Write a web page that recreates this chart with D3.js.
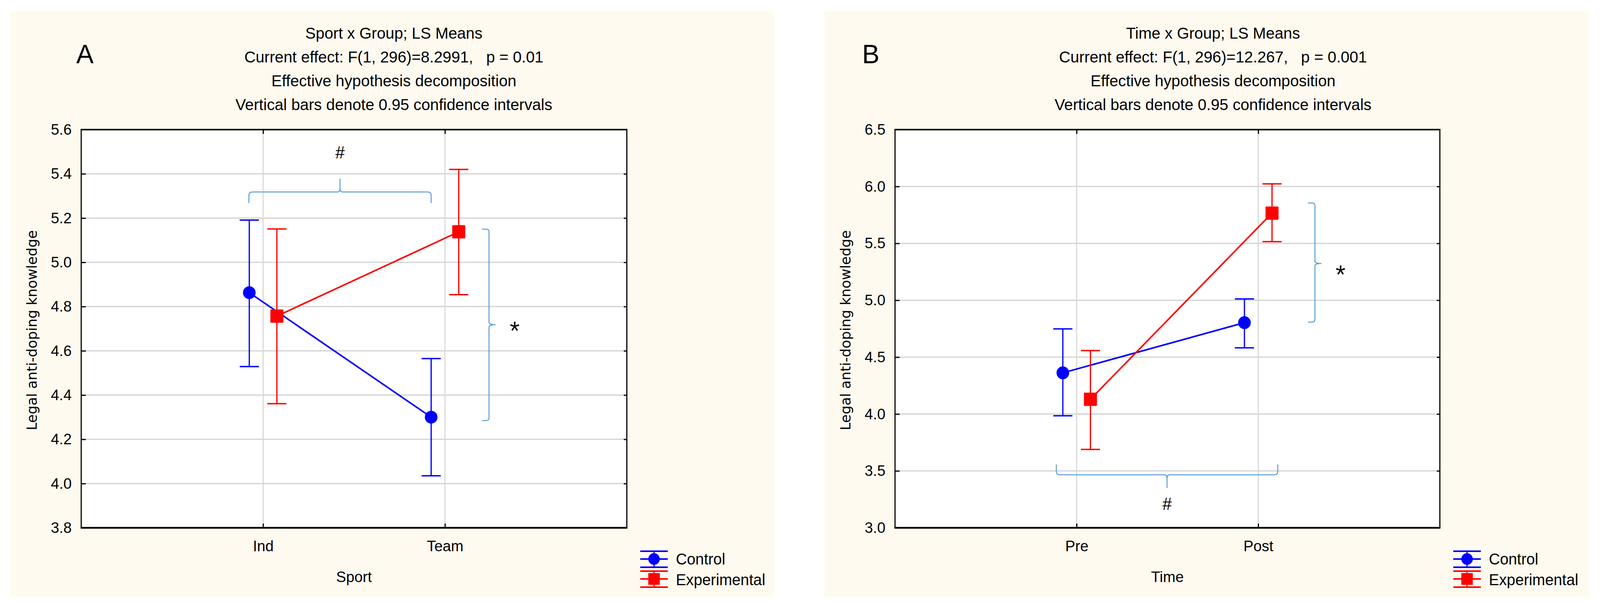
<!DOCTYPE html>
<html>
<head>
<meta charset="utf-8">
<title>LS Means - Sport x Group, Time x Group</title>
<script src="https://cdn.jsdelivr.net/npm/d3@7"></script>
<style>
  html, body { margin: 0; padding: 0; background: #ffffff; overflow: hidden; width: 100%; height: 100%; }
  #chart { width: 100vw; height: 100vh; }
  svg { display: block; }
  text { font-family: "Liberation Sans", Arial, sans-serif; fill: #000; }
</style>
</head>
<body>
<div id="chart"></div>
<script>
// ---- data ----
const groups = ["Control", "Experimental"]

// panel A: Sport x Group
const sportCats = ["Ind", "Team"]
const sportControlMean = [4.863, 4.300]
const sportControlLow  = [4.529, 4.035]
const sportControlHigh = [5.191, 4.565]
const sportExpMean = [4.757, 5.138]
const sportExpLow  = [4.361, 4.854]
const sportExpHigh = [5.151, 5.420]
const sportTicks = [3.8, 4.0, 4.2, 4.4, 4.6, 4.8, 5.0, 5.2, 5.4, 5.6]

// panel B: Time x Group
const timeCats = ["Pre", "Post"]
const timeControlMean = [4.362, 4.803]
const timeControlLow  = [3.985, 4.582]
const timeControlHigh = [4.748, 5.012]
const timeExpMean = [4.130, 5.766]
const timeExpLow  = [3.689, 5.515]
const timeExpHigh = [4.558, 6.023]
const timeTicks = [3.0, 3.5, 4.0, 4.5, 5.0, 5.5, 6.0, 6.5]

const titlesA = ["Sport x Group; LS Means", "Current effect: F(1, 296)=8.2991,   p = 0.01",
  "Effective hypothesis decomposition", "Vertical bars denote 0.95 confidence intervals"]
const titlesB = ["Time x Group; LS Means", "Current effect: F(1, 296)=12.267,   p = 0.001",
  "Effective hypothesis decomposition", "Vertical bars denote 0.95 confidence intervals"]

const colors = {Control: "#0000ff", Experimental: "#ff0000"}
const braceColor = "#5b9bd5"

// drawing space is 4176 x 1560, fitted to whatever the window really is
var svg = d3.select("#chart")
  .append("svg")
  .attr("viewBox", "0 0 4176 1560")
  .attr("preserveAspectRatio", "none")
  .attr("width", "100%")
  .attr("height", "100%")

svg.append("rect").attr("width", 4176).attr("height", 1560).attr("fill", "#ffffff")

// build one panel
function drawPanel(p) {
  var g = svg.append("g")

  // cream background
  g.append("rect")
    .attr("x", p.bgX).attr("y", 29)
    .attr("width", p.bgW).attr("height", 1499)
    .attr("fill", "#fefaf0")

  var top = 332, bottom = 1352
  var left = p.plotX, right = p.plotX + p.plotW

  var x = d3.scalePoint().domain(p.cats).range([left, right]).padding(1)
  var y = d3.scaleLinear().domain(p.yDomain).range([bottom, top])

  g.append("rect")
    .attr("x", left).attr("y", top)
    .attr("width", p.plotW).attr("height", bottom - top)
    .attr("fill", "#ffffff")

  // grid lines
  g.selectAll(".hgrid").data(p.ticks.slice(1, -1)).enter()
    .append("line")
    .attr("x1", left).attr("x2", right)
    .attr("y1", d => y(d)).attr("y2", d => y(d))
    .attr("stroke", "#d2d2d2").attr("stroke-width", 3)
  g.selectAll(".vgrid").data(p.cats).enter()
    .append("line")
    .attr("x1", d => x(d)).attr("x2", d => x(d))
    .attr("y1", top).attr("y2", bottom)
    .attr("stroke", "#d9d9d9").attr("stroke-width", 3)

  // axes
  var yAxis = g.append("g")
    .attr("transform", "translate(" + left + ",0)")
    .call(d3.axisLeft(y).tickValues(p.ticks).tickFormat(d3.format(".1f"))
      .tickSizeInner(-12).tickSizeOuter(0).tickPadding(25))
  yAxis.selectAll("text").style("font-size", "39px")

  g.append("g")
    .attr("transform", "translate(" + right + ",0)")
    .call(d3.axisRight(y).tickValues(p.ticks).tickFormat("")
      .tickSizeInner(-8).tickSizeOuter(0))

  var xAxis = g.append("g")
    .attr("transform", "translate(0," + bottom + ")")
    .call(d3.axisBottom(x).tickSizeInner(-11).tickSizeOuter(0).tickPadding(32))
  xAxis.selectAll("text").style("font-size", "39px")

  g.append("g")
    .attr("transform", "translate(0," + top + ")")
    .call(d3.axisTop(x).tickFormat("").tickSizeInner(-11).tickSizeOuter(0))

  g.selectAll(".domain").remove()
  g.selectAll(".tick line").attr("stroke", "#000").attr("stroke-width", 3)

  // frame
  g.append("line").attr("x1", left - 1.5).attr("x2", right + 1.5).attr("y1", top).attr("y2", top)
    .attr("stroke", "#000").attr("stroke-width", 4)
  g.append("line").attr("x1", left - 1.5).attr("x2", right + 1.5).attr("y1", bottom).attr("y2", bottom)
    .attr("stroke", "#000").attr("stroke-width", 4.5)
  g.append("line").attr("x1", left).attr("x2", left).attr("y1", top).attr("y2", bottom)
    .attr("stroke", "#000").attr("stroke-width", 3)
  g.append("line").attr("x1", right).attr("x2", right).attr("y1", top).attr("y2", bottom)
    .attr("stroke", "#000").attr("stroke-width", 3)

  // titles
  g.selectAll(".title").data(p.titles).enter()
    .append("text")
    .attr("x", p.titleX).attr("y", (d, i) => 99 + i * 61)
    .attr("text-anchor", "middle")
    .style("font-size", "41px")
    .style("white-space", "pre")
    .text(d => d)

  g.append("text")
    .attr("x", p.letterX).attr("y", 162)
    .style("font-size", "68px")
    .text(p.letter)

  // axis titles
  g.append("text")
    .attr("transform", "translate(" + (left - 116) + "," + ((top + bottom) / 2 + 4) + ") rotate(-90)")
    .attr("text-anchor", "middle")
    .style("font-family", "'DejaVu Sans', Verdana, sans-serif")
    .style("font-size", "35.5px")
    .text("Legal anti-doping knowledge")

  g.append("text")
    .attr("x", (x(p.cats[0]) + x(p.cats[1])) / 2).attr("y", 1491)
    .attr("text-anchor", "middle")
    .style("font-size", "39px")
    .text(p.xTitle)

  // braces
  var b = p.hBrace
  var bx1 = x(p.cats[0]) + b.dx1, bx2 = x(p.cats[1]) + b.dx2, bxm = (bx1 + bx2) / 2
  var yEnd = y(b.yEnd), yLine = y(b.yLine), yTip = y(b.yTip), r = 9
  var s = yEnd > yLine ? 1 : -1
  g.append("path")
    .attr("d", "M" + bx1 + "," + yEnd +
      " L" + bx1 + "," + (yLine + s * r) +
      " Q" + bx1 + "," + yLine + " " + (bx1 + r) + "," + yLine +
      " L" + (bxm - 6) + "," + yLine +
      " Q" + bxm + "," + yLine + " " + bxm + "," + (yLine - s * 10) +
      " L" + bxm + "," + yTip +
      " M" + bxm + "," + (yLine - s * 10) +
      " Q" + bxm + "," + yLine + " " + (bxm + 6) + "," + yLine +
      " L" + (bx2 - r) + "," + yLine +
      " Q" + bx2 + "," + yLine + " " + bx2 + "," + (yLine + s * r) +
      " L" + bx2 + "," + yEnd)
    .attr("fill", "none").attr("stroke", braceColor).attr("stroke-width", 2.5)
  g.append("text")
    .attr("x", bxm).attr("y", y(b.yMark) + 16)
    .attr("text-anchor", "middle")
    .style("font-size", "44px")
    .text("#")

  var v = p.vBrace
  var vx = x(p.cats[1]) + v.dx
  var vy1 = y(v.yTop), vy2 = y(v.yBottom), vym = y(v.yTip)
  g.append("path")
    .attr("d", "M" + (vx - 18) + "," + vy1 +
      " L" + (vx - 7) + "," + vy1 +
      " Q" + vx + "," + vy1 + " " + vx + "," + (vy1 + 7) +
      " L" + vx + "," + (vym - 6) +
      " Q" + vx + "," + vym + " " + (vx + 17) + "," + vym +
      " Q" + vx + "," + vym + " " + vx + "," + (vym + 6) +
      " L" + vx + "," + (vy2 - 7) +
      " Q" + vx + "," + vy2 + " " + (vx - 7) + "," + vy2 +
      " L" + (vx - 18) + "," + vy2)
    .attr("fill", "none").attr("stroke", braceColor).attr("stroke-width", 2.5)
  g.append("text")
    .attr("x", vx + v.starDx).attr("y", y(v.yStar) + 38)
    .attr("text-anchor", "middle")
    .style("font-size", "66px")
    .text("*")

  // series: lines, error bars, markers
  var offsets = {Control: -36, Experimental: 36}
  p.series.forEach(function(se) {
    var pts = p.cats.map((c, i) => ({cat: c, m: se.mean[i], lo: se.low[i], hi: se.high[i]}))
    var px = d => x(d.cat) + offsets[se.name]
    var col = colors[se.name]

    g.append("path")
      .datum(pts)
      .attr("d", d3.line().x(px).y(d => y(d.m)))
      .attr("fill", "none").attr("stroke", col).attr("stroke-width", 4)

    var eb = g.selectAll(null).data(pts).enter().append("g")
    eb.append("line")
      .attr("x1", px).attr("x2", px)
      .attr("y1", d => y(d.lo)).attr("y2", d => y(d.hi))
      .attr("stroke", col).attr("stroke-width", 3.2)
    eb.append("line")
      .attr("x1", d => px(d) - 25).attr("x2", d => px(d) + 25)
      .attr("y1", d => y(d.hi)).attr("y2", d => y(d.hi))
      .attr("stroke", col).attr("stroke-width", 3.5)
    eb.append("line")
      .attr("x1", d => px(d) - 25).attr("x2", d => px(d) + 25)
      .attr("y1", d => y(d.lo)).attr("y2", d => y(d.lo))
      .attr("stroke", col).attr("stroke-width", 3.5)

    if (se.name === "Control") {
      eb.append("circle")
        .attr("cx", px).attr("cy", d => y(d.m)).attr("r", 16.5)
        .attr("fill", col)
    } else {
      eb.append("rect")
        .attr("x", d => px(d) - 17).attr("y", d => y(d.m) - 17)
        .attr("width", 34).attr("height", 34).attr("rx", 2)
        .attr("fill", col)
    }
  })

  // legend
  var lx = right + 35
  var leg = g.selectAll(".legend").data(groups).enter().append("g")
    .attr("transform", (d, i) => "translate(" + lx + "," + (1432 + i * 51) + ")")
  leg.append("line").attr("x1", 0).attr("x2", 72).attr("y1", 0).attr("y2", 0)
    .attr("stroke", d => colors[d]).attr("stroke-width", 4)
  leg.append("line").attr("x1", 0).attr("x2", 72).attr("y1", -20).attr("y2", -20)
    .attr("stroke", d => colors[d]).attr("stroke-width", 4)
  leg.append("line").attr("x1", 0).attr("x2", 72).attr("y1", 21).attr("y2", 21)
    .attr("stroke", d => colors[d]).attr("stroke-width", 4)
  leg.append("line").attr("x1", 36).attr("x2", 36).attr("y1", -20).attr("y2", 21)
    .attr("stroke", d => colors[d]).attr("stroke-width", 3)
  leg.filter(d => d === "Control").append("circle")
    .attr("cx", 36).attr("cy", 0).attr("r", 15).attr("fill", colors.Control)
  leg.filter(d => d === "Experimental").append("rect")
    .attr("x", 21).attr("y", -15).attr("width", 30).attr("height", 30).attr("fill", colors.Experimental)
  leg.append("text")
    .attr("x", 93).attr("y", (d, i) => 14 + i * 2)
    .style("font-size", "40px")
    .text(d => d)
}

drawPanel({
  bgX: 27, bgW: 1995, plotX: 212, plotW: 1424, titleX: 1028,
  cats: sportCats, yDomain: [3.8, 5.6], ticks: sportTicks,
  titles: titlesA, letter: "A", letterX: 199, xTitle: "Sport",
  series: [
    {name: "Control", mean: sportControlMean, low: sportControlLow, high: sportControlHigh},
    {name: "Experimental", mean: sportExpMean, low: sportExpLow, high: sportExpHigh}
  ],
  hBrace: {dx1: -37, dx2: -36, yEnd: 5.268, yLine: 5.318, yTip: 5.379, yMark: 5.498},
  vBrace: {dx: 115, yTop: 5.15, yBottom: 4.285, yTip: 4.718, yStar: 4.718, starDx: 67}
})

drawPanel({
  bgX: 2152, bgW: 1995, plotX: 2336, plotW: 1422, titleX: 3166,
  cats: timeCats, yDomain: [3.0, 6.5], ticks: timeTicks,
  titles: titlesB, letter: "B", letterX: 2250, xTitle: "Time",
  series: [
    {name: "Control", mean: timeControlMean, low: timeControlLow, high: timeControlHigh},
    {name: "Experimental", mean: timeExpMean, low: timeExpLow, high: timeExpHigh}
  ],
  hBrace: {dx1: -53, dx2: 51, yEnd: 3.556, yLine: 3.466, yTip: 3.350, yMark: 3.214},
  vBrace: {dx: 148, yTop: 5.855, yBottom: 4.808, yTip: 5.323, yStar: 5.28, starDx: 67}
})
</script>
</body>
</html>
